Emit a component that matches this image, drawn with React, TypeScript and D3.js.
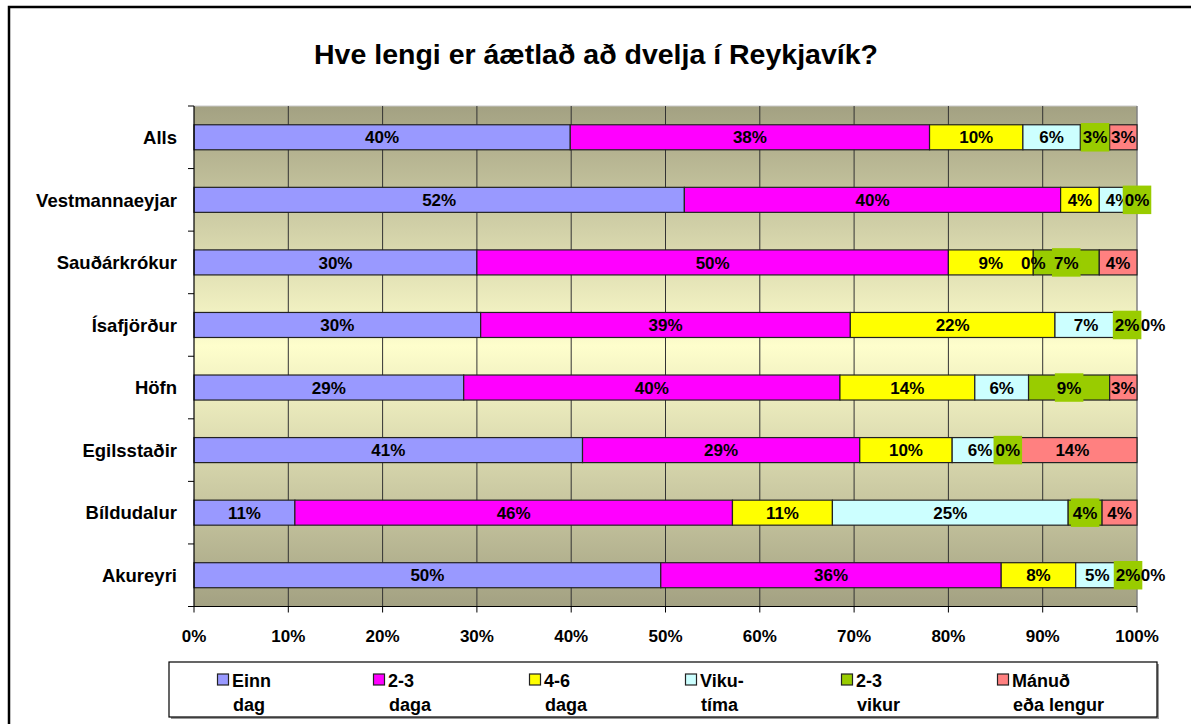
import React from "react";
import { scaleLinear, scaleBand, stack, range } from "d3";

// Categories (top to bottom) and series values in percent
const categories = [
  "Alls",
  "Vestmannaeyjar",
  "Sauðárkrókur",
  "Ísafjörður",
  "Höfn",
  "Egilsstaðir",
  "Bíldudalur",
  "Akureyri",
];
const einnDag = [39.9, 52.0, 30.0, 30.4, 28.6, 41.2, 10.7, 49.5];
const tveirDagar = [38.1, 39.9, 50.0, 39.2, 39.9, 29.4, 46.4, 36.1];
const fjorirDagar = [9.9, 4.1, 9.0, 21.7, 14.3, 9.8, 10.6, 7.9];
const vikutima = [6.1, 4.0, 0, 6.6, 5.7, 5.9, 25.0, 4.6];
const tvaerVikur = [3.1, 0, 7.0, 2.1, 8.6, 0, 3.6, 1.9];
const manudur: (number | null)[] = [2.9, null, 4.0, 0, 2.9, 13.7, 3.7, 0];

const seriesNames = [
  ["Einn", "dag"],
  ["2-3", "daga"],
  ["4-6", "daga"],
  ["Viku-", "tíma"],
  ["2-3", "vikur"],
  ["Mánuð", "eða lengur"],
];
const seriesValues = [einnDag, tveirDagar, fjorirDagar, vikutima, tvaerVikur, manudur];
const xTicks = [0, 10, 20, 30, 40, 50, 60, 70, 80, 90, 100];

const colors = ["#9999ff", "#ff00ff", "#ffff00", "#ccffff", "#99cc00", "#ff8080"];
const font = "'Liberation Sans', Arial, sans-serif";

export default function App() {
  const W = 1191;
  const H = 724;
  const plot = { left: 194, right: 1137, top: 106, bottom: 606.5 };

  const x = scaleLinear().domain([0, 100]).range([plot.left, plot.right]);
  const y = scaleBand<string>()
    .domain(categories)
    .range([plot.top, plot.bottom])
    .paddingInner(0.6)
    .paddingOuter(0.3);

  const keys = seriesNames.map((_, i) => `s${i}`);
  const rows = categories.map((c, ci) => {
    const r: any = { cat: c };
    seriesValues.forEach((vals, si) => {
      r[`s${si}`] = vals[ci] ?? 0;
    });
    return r;
  });
  const stacked = stack<any>().keys(keys)(rows);

  const step = y.step();
  const boundaries = range(categories.length + 1).map((i) => plot.top + i * step);

  return (
    <svg
      width={W}
      height={H}
      style={{ position: "absolute", left: 0, top: 0, background: "#fff" }}
      fontFamily={font}
    >
      <defs>
        <linearGradient id="bg" x1="0" y1="0" x2="0" y2="1">
          <stop offset="0%" stopColor="#a3a182" />
          <stop offset="48%" stopColor="#fefecc" />
          <stop offset="100%" stopColor="#a3a182" />
        </linearGradient>
      </defs>

      {/* outer chart border */}
      <rect x={9} y={7} width={1300} height={800} fill="none" stroke="#000" strokeWidth={2.5} />

      <text x={596} y={64} textAnchor="middle" fontSize={28.5} fontWeight="bold">
        Hve lengi er áætlað að dvelja í Reykjavík?
      </text>

      {/* plot area */}
      <rect
        x={plot.left}
        y={plot.top}
        width={plot.right - plot.left}
        height={plot.bottom - plot.top}
        fill="url(#bg)"
      />
      <line x1={plot.left} x2={plot.right} y1={plot.top} y2={plot.top} stroke="#c8c8c8" />
      <line x1={plot.right} x2={plot.right} y1={plot.top} y2={plot.bottom} stroke="#808080" strokeWidth={1.5} />

      {xTicks.slice(1, -1).map((t) => (
        <line key={t} x1={x(t)} x2={x(t)} y1={plot.top} y2={plot.bottom} stroke="#333" strokeWidth={1} />
      ))}

      {/* bars */}
      {stacked.map((s, si) =>
        s.map((d, ci) => (
          <rect
            key={`${si}-${ci}`}
            x={x(d[0])}
            y={y(categories[ci])!}
            width={x(d[1]) - x(d[0])}
            height={y.bandwidth()}
            fill={colors[si]}
            stroke="#222"
            strokeWidth={1.2}
          />
        ))
      )}

      {/* axes */}
      <line x1={plot.left} x2={plot.left} y1={plot.top} y2={plot.bottom} stroke="#000" strokeWidth={1.2} />
      <line x1={plot.left} x2={plot.right} y1={plot.bottom} y2={plot.bottom} stroke="#000" strokeWidth={1.2} />
      {boundaries.map((b, i) => (
        <line key={i} x1={plot.left - 6} x2={plot.left} y1={b} y2={b} stroke="#000" />
      ))}
      {xTicks.map((t) => (
        <g key={t}>
          <line x1={x(t)} x2={x(t)} y1={plot.bottom} y2={plot.bottom + 6} stroke="#000" />
          <text x={x(t)} y={641.5} textAnchor="middle" fontSize={17} fontWeight="bold">
            {t}%
          </text>
        </g>
      ))}
      {categories.map((c) => (
        <text
          key={c}
          x={177}
          y={y(c)! + y.bandwidth() / 2}
          dy="0.36em"
          textAnchor="end"
          fontSize={18.5}
          fontWeight="bold"
        >
          {c}
        </text>
      ))}

      {/* data labels */}
      {stacked.map((s, si) =>
        s.map((d, ci) => {
          const v = seriesValues[si][ci];
          if (v === null || v === undefined) return null;
          const label = `${Math.round(v)}%`;
          let cx = (x(d[0]) + x(d[1])) / 2;
          if (si === seriesValues.length - 1 && v === 0) cx += 16;
          const cy = y(categories[ci])! + y.bandwidth() / 2;
          const boxW = 9.45 * (label.length - 1) + 15.1 + 4;
          return (
            <g key={`l${si}-${ci}`}>
              {si === 4 && (
                <rect x={cx - boxW / 2} y={cy - 14.25} width={boxW} height={28.5} fill={colors[4]} />
              )}
              <text x={cx} y={cy} dy="0.36em" textAnchor="middle" fontSize={17} fontWeight="bold">
                {label}
              </text>
            </g>
          );
        })
      )}

      {/* legend */}
      <rect x={171} y={664} width={988} height={55} fill="#999" />
      <rect x={169} y={662} width={988} height={55} fill="#fff" stroke="#000" strokeWidth={1.2} />
      {seriesNames.map((n, i) => {
        const sx = 217.5 + i * 156;
        return (
          <g key={i}>
            <rect x={sx} y={674} width={11} height={11} fill={colors[i]} stroke="#222" strokeWidth={1.2} />
            <text x={sx + 14.5} y={686.5} fontSize={18} fontWeight="bold">
              {n[0]}
            </text>
            <text x={sx + 15.5} y={711} fontSize={18} fontWeight="bold">
              {n[1]}
            </text>
          </g>
        );
      })}
    </svg>
  );
}
